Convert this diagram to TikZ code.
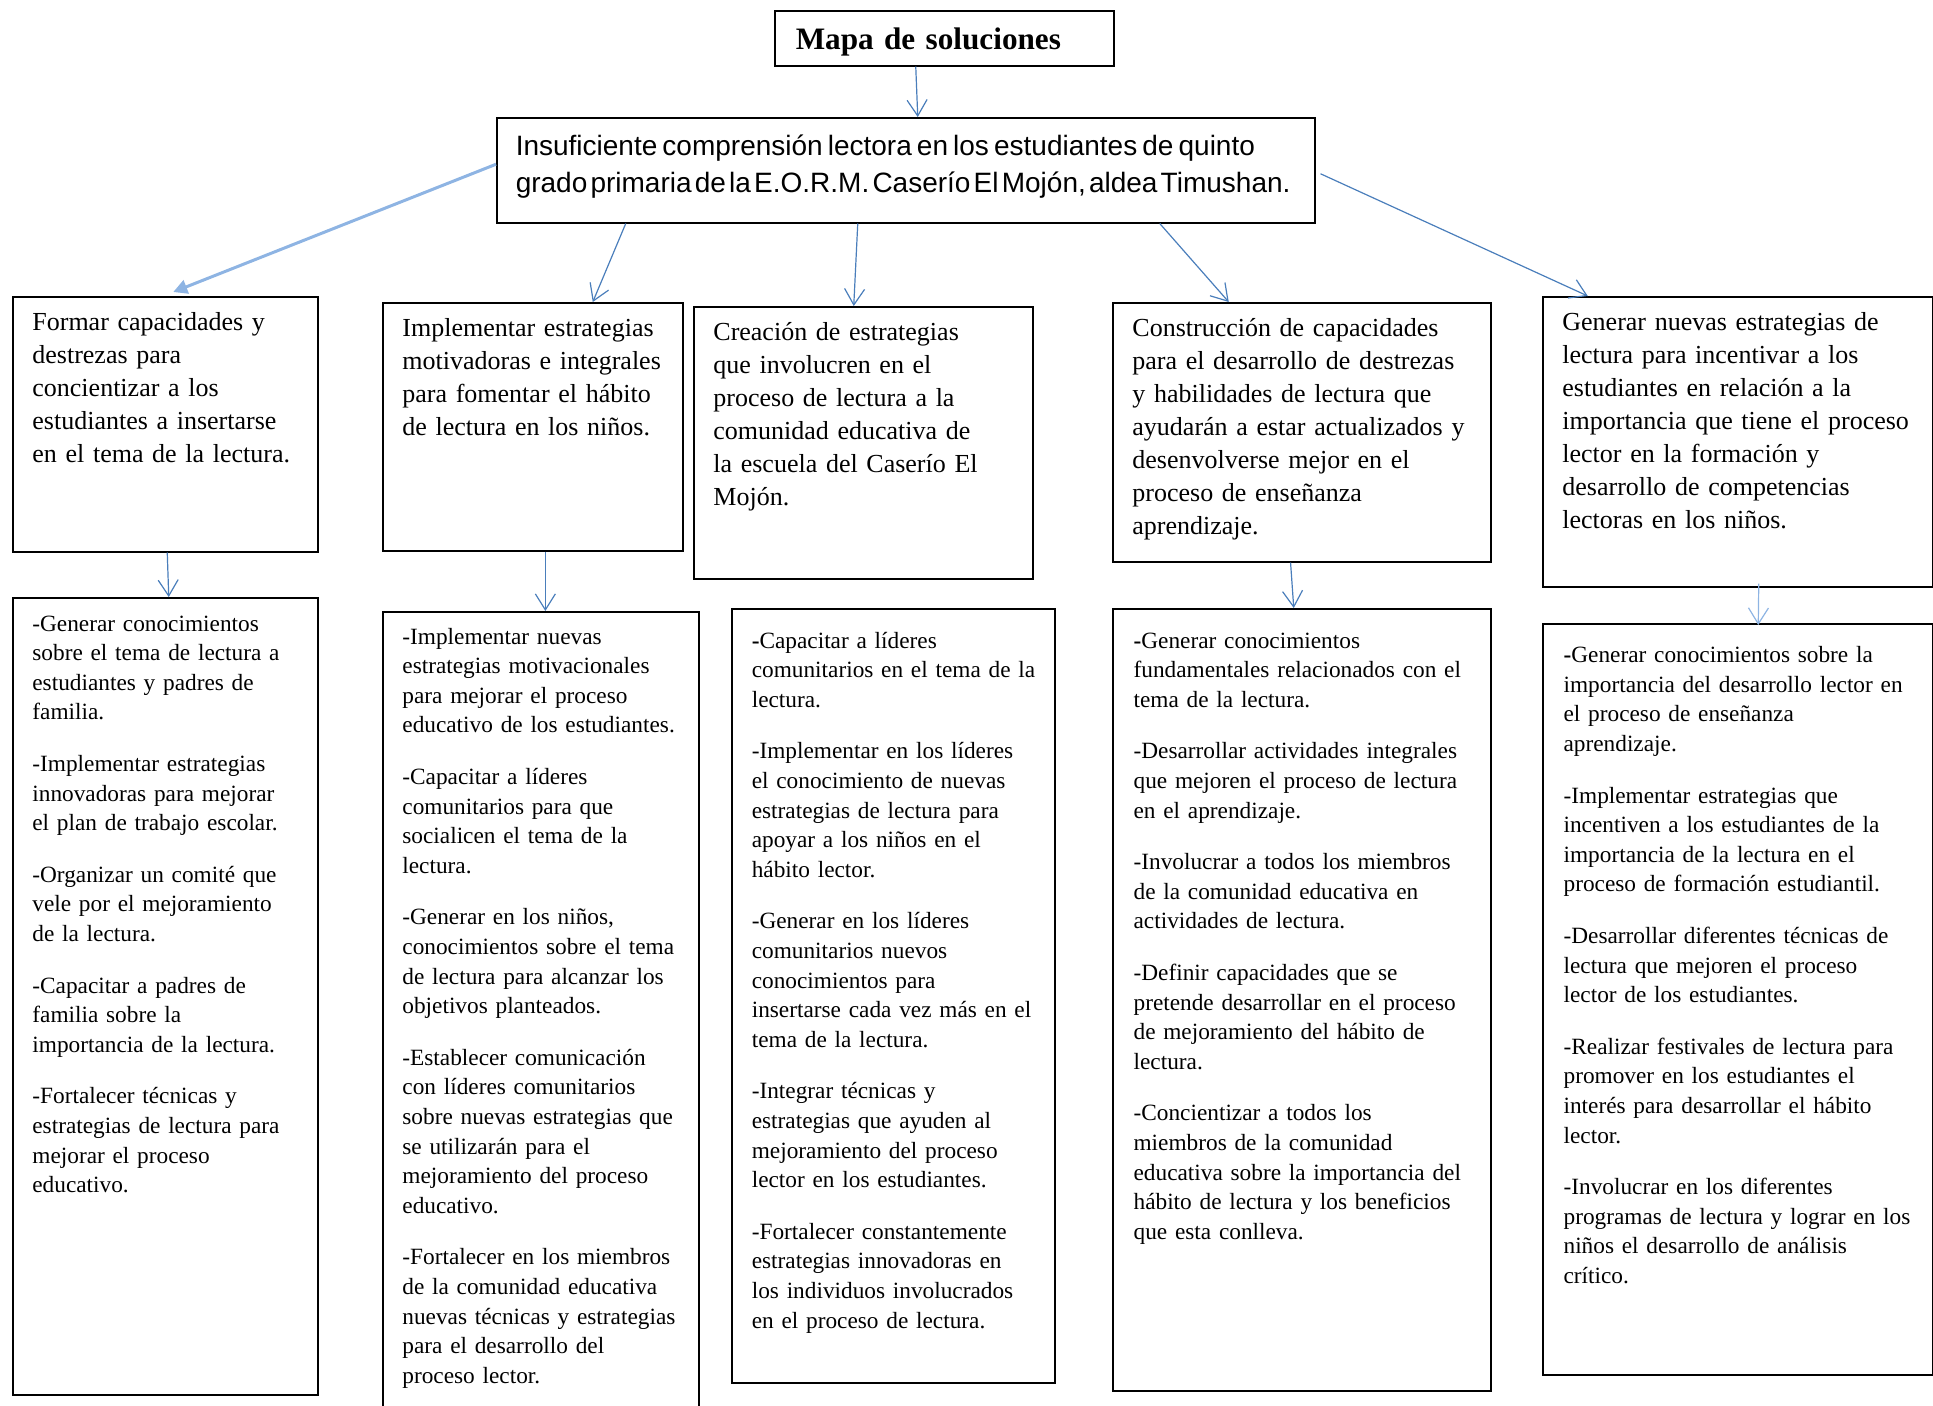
\documentclass[tikz,border=0pt]{standalone}
\usepackage{fontspec}
\setmainfont{Liberation Serif}
\newfontfamily\arialfont{Liberation Sans}
\usetikzlibrary{arrows.meta}
\definecolor{azul}{HTML}{4A7EBB}
\definecolor{azulclaro}{HTML}{8EB4E3}
\tikzset{
  caja/.style={draw, line width=0.75pt, anchor=north west, inner sep=0pt},
  textoobj/.style={anchor=base west, inner sep=0pt, text width=190pt, align=left,
                   font=\fontsize{13}{16.5}\selectfont},
  textoact/.style={anchor=base west, inner sep=0pt, text width=190pt, align=left,
                   font=\fontsize{11.65}{14.8}\selectfont},
  flecha/.style={draw=azul, line width=0.6pt, -{Straight Barb[length=8pt,width=10pt]}},
  flechaclara/.style={flecha, draw=azulclaro},
  flechagruesa/.style={draw=azulclaro, line width=1.5pt, -{Triangle[length=7pt,width=7pt]}}
}
\begin{document}
\begin{tikzpicture}[x=1pt,y=-1pt]
  \useasboundingbox (0,0) rectangle (966.5,702.5);
      \node[caja, minimum width=169.5pt, minimum height=27.5pt, inner xsep=10.5pt, text width=148.5pt,
            text height=14.3pt, align=left, font=\fontsize{15.6}{19}\selectfont\bfseries] (titulo) at (387,5) {Mapa de soluciones}; % title
      \node[caja, minimum width=409pt, minimum height=52.5pt, inner xsep=9.5pt, text width=390pt,
            text depth=25.1pt, align=left, font=\arialfont\fontsize{14}{18.5}\selectfont] (problema) at (248,58.5)
            {\spaceskip=2.55pt\relax Insuficiente comprensión lectora en los estudiantes de quinto\\
             \spaceskip=1.6pt\relax grado primaria de la E.O.R.M. Caserío El Mojón, aldea Timushan.}; % problem
      % objetivos
      \node[caja, minimum width=152.5pt, minimum height=127.5pt] (obj1) at (6,148) {};
      \node[caja, minimum width=150pt, minimum height=124pt] (obj2) at (191,151) {};
      \node[caja, minimum width=169.5pt, minimum height=136pt] (obj3) at (346.5,153) {};
      \node[caja, minimum width=189pt, minimum height=129.5pt] (obj4) at (556,151) {};
      \node[caja, minimum width=195pt, minimum height=145pt] (obj5) at (771,148) {};
      \node[textoobj] (obj1t) at ([shift={(10,17.3)}]obj1.north west) {Formar capacidades y\\ destrezas para\\
            concientizar a los\\ estudiantes a insertarse\\ en el tema de la lectura.};
      \node[textoobj] (obj2t) at ([shift={(10,17.3)}]obj2.north west) {Implementar estrategias\\
            motivadoras e integrales\\ para fomentar el hábito\\ de lectura en los niños.};
      \node[textoobj] (obj3t) at ([shift={(10,17.3)}]obj3.north west) {Creación de estrategias\\
            que involucren en el\\ proceso de lectura a la\\ comunidad educativa de\\ la escuela del Caserío El\\ Mojón.};
      \node[textoobj] (obj4t) at ([shift={(10,17.3)}]obj4.north west) {Construcción de capacidades\\
            para el desarrollo de destrezas\\ y habilidades de lectura que\\ ayudarán a estar actualizados y\\
            desenvolverse mejor en el\\ proceso de enseñanza\\ aprendizaje.};
      \node[textoobj] (obj5t) at ([shift={(10,17.3)}]obj5.north west) {Generar nuevas estrategias de\\
            lectura para incentivar a los\\ estudiantes en relación a la\\ importancia que tiene el proceso\\
            lector en la formación y\\ desarrollo de competencias\\ lectoras en los niños.};
      % actividades
      \node[caja, minimum width=152.5pt, minimum height=398.5pt] (act1) at (6,298.5) {};
      \node[caja, minimum width=158pt, minimum height=402pt] (act2) at (191,305.5) {};
      \node[caja, minimum width=161.5pt, minimum height=387pt] (act3) at (365.5,304) {};
      \node[caja, minimum width=189pt, minimum height=391pt] (act4) at (556,304) {};
      \node[caja, minimum width=195pt, minimum height=375.5pt] (act5) at (771,311.5) {};
      \node[textoact] (act1t) at ([shift={(10,17)}]act1.north west) {-Generar conocimientos\\
            sobre el tema de lectura a\\ estudiantes y padres de\\ familia.\\[11pt]
            -Implementar estrategias\\ innovadoras para mejorar\\ el plan de trabajo escolar.\\[11pt]
            -Organizar un comité que\\ vele por el mejoramiento\\ de la lectura.\\[11pt]
            -Capacitar a padres de\\ familia sobre la\\ importancia de la lectura.\\[11pt]
            -Fortalecer técnicas y\\ estrategias de lectura para\\ mejorar el proceso\\ educativo.};
      \node[textoact] (act2t) at ([shift={(10,16.5)}]act2.north west) {-Implementar nuevas\\
            estrategias motivacionales\\ para mejorar el proceso\\ educativo de los estudiantes.\\[11pt]
            -Capacitar a líderes\\ comunitarios para que\\ socialicen el tema de la\\ lectura.\\[11pt]
            -Generar en los niños,\\ conocimientos sobre el tema\\ de lectura para alcanzar los\\ objetivos planteados.\\[11pt]
            -Establecer comunicación\\ con líderes comunitarios\\ sobre nuevas estrategias que\\ se utilizarán para el\\
            mejoramiento del proceso\\ educativo.\\[11pt]
            -Fortalecer en los miembros\\ de la comunidad educativa\\ nuevas técnicas y estrategias\\
            para el desarrollo del\\ proceso lector.};
      \node[textoact] (act3t) at ([shift={(10.2,20)}]act3.north west) {\textbf{-}Capacitar a líderes\\
            comunitarios en el tema de la\\ lectura.\\[11pt]
            -Implementar en los líderes\\ el conocimiento de nuevas\\ estrategias de lectura para\\
            apoyar a los niños en el\\ hábito lector.\\[11pt]
            -Generar en los líderes\\ comunitarios nuevos\\ conocimientos para\\ insertarse cada vez más en el\\
            tema de la lectura.\\[11pt]
            -Integrar técnicas y\\ estrategias que ayuden al\\ mejoramiento del proceso\\ lector en los estudiantes.\\[11pt]
            -Fortalecer constantemente\\ estrategias innovadoras en\\ los individuos involucrados\\ en el proceso de lectura.};
      \node[textoact] (act4t) at ([shift={(10.6,20)}]act4.north west) {\textbf{-}Generar conocimientos\\
            fundamentales relacionados con el\\ tema de la lectura.\\[11pt]
            -Desarrollar actividades integrales\\ que mejoren el proceso de lectura\\ en el aprendizaje.\\[11pt]
            -Involucrar a todos los miembros\\ de la comunidad educativa en\\ actividades de lectura.\\[11pt]
            -Definir capacidades que se\\ pretende desarrollar en el proceso\\ de mejoramiento del hábito de\\ lectura.\\[11pt]
            -Concientizar a todos los\\ miembros de la comunidad\\ educativa sobre la importancia del\\
            hábito de lectura y los beneficios\\ que esta conlleva.};
      \node[textoact] (act5t) at ([shift={(10.6,19.8)}]act5.north west) {\textbf{-}Generar conocimientos sobre la\\
            importancia del desarrollo lector en\\ el proceso de enseñanza\\ aprendizaje.\\[11pt]
            -Implementar estrategias que\\ incentiven a los estudiantes de la\\ importancia de la lectura en el\\
            proceso de formación estudiantil.\\[11pt]
            -Desarrollar diferentes técnicas de\\ lectura que mejoren el proceso\\ lector de los estudiantes.\\[11pt]
            -Realizar festivales de lectura para\\ promover en los estudiantes el\\ interés para desarrollar el hábito\\ lector.\\[11pt]
            -Involucrar en los diferentes\\ programas de lectura y lograr en los\\ niños el desarrollo de análisis\\ crítico.};
      % flechas
      \draw[flecha] ([xshift=-14.25pt]titulo.south) -- ([xshift=6pt]problema.north); % title to problem
      \draw[flechagruesa] ([yshift=3pt]problema.west) -- ([xshift=4pt,yshift=2pt]obj1.north); % to obj 1
      \draw[flecha] ([xshift=-140pt]problema.south) -- ([xshift=30pt]obj2.north); % to obj 2
      \draw[flecha] ([xshift=-24pt]problema.south) -- ([xshift=-4.75pt]obj3.north); % to obj 3
      \draw[flecha] ([xshift=127pt]problema.south) -- ([xshift=-36.5pt]obj4.north); % to obj 4
      \draw[flecha] ([xshift=2.5pt,yshift=-1.75pt]problema.east) -- ([xshift=-75pt]obj5.north); % to obj 5
      \draw[flecha] ([xshift=1pt]obj1.south) -- ([xshift=1.75pt]act1.north); % obj 1 to act 1
      \draw[flecha] ([xshift=6.3pt]obj2.south) -- ([xshift=2.3pt]act2.north); % obj 2 to act 2
      \draw[flecha] ([xshift=-5.6pt]obj4.south) -- ([xshift=-4pt]act4.north); % obj 4 to act 4
      \draw[flechaclara] ([xshift=10.5pt,yshift=2pt]obj5.south) -- ([xshift=10.25pt,yshift=-1pt]act5.north); % obj 5 to act 5
\end{tikzpicture}
\end{document}
